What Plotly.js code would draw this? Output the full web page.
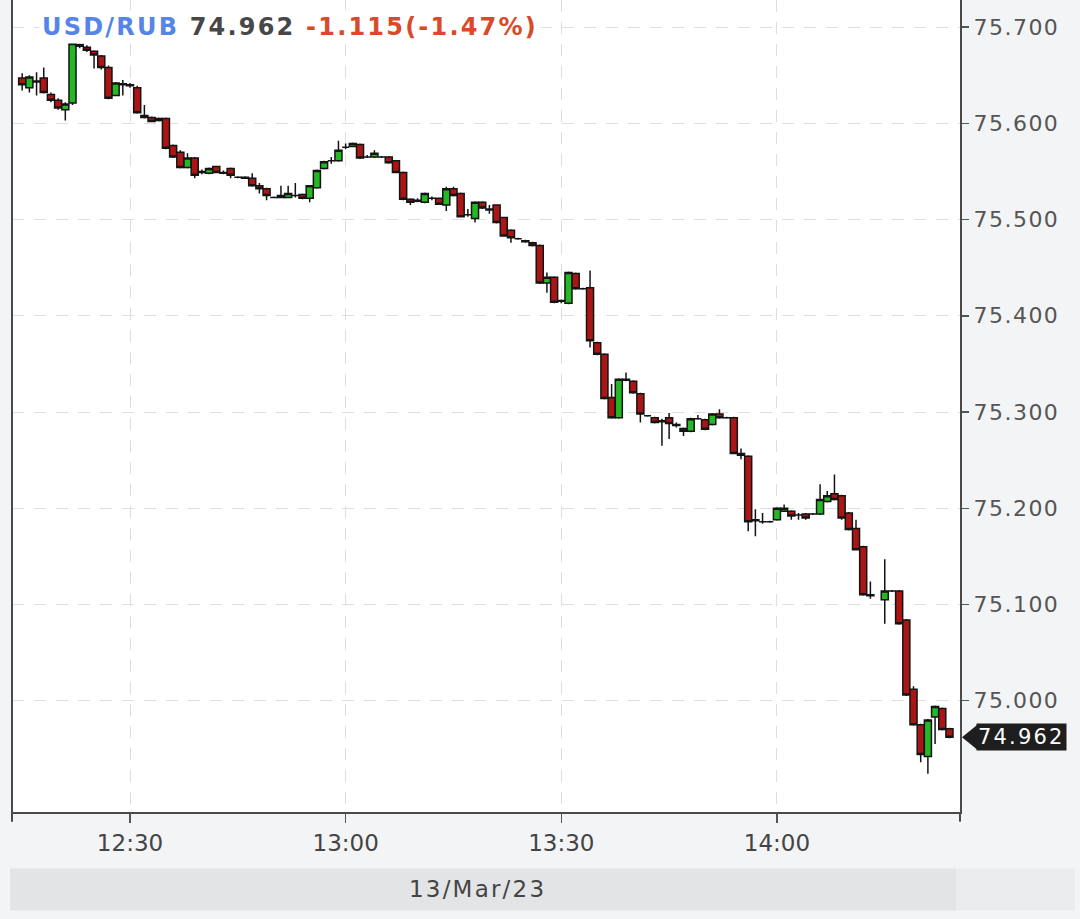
<!DOCTYPE html>
<html>
<head>
<meta charset="utf-8">
<script src="https://cdn.plot.ly/plotly-3.0.1.min.js"></script>
<style>
  html, body { margin: 0; padding: 0; background: #f3f4f6; }
  #chart { width: 1080px; height: 919px; }
  .annotation-text { letter-spacing: 2.2px; }
  .ytick text { letter-spacing: 1.5px; }
</style>
</head>
<body>
<div id="chart"></div>
<script>
const tradeDate = "2023-03-13";
const times = [
  "12:15","12:16","12:17","12:18","12:19","12:20","12:21","12:22","12:23","12:24",
  "12:25","12:26","12:27","12:28","12:29","12:30","12:31","12:32","12:33","12:34",
  "12:35","12:36","12:37","12:38","12:39","12:40","12:41","12:42","12:43","12:44",
  "12:45","12:46","12:47","12:48","12:49","12:50","12:51","12:52","12:53","12:54",
  "12:55","12:56","12:57","12:58","12:59","13:00","13:01","13:02","13:03","13:04",
  "13:05","13:06","13:07","13:08","13:09","13:10","13:11","13:12","13:13","13:14",
  "13:15","13:16","13:17","13:18","13:19","13:20","13:21","13:22","13:23","13:24",
  "13:25","13:26","13:27","13:28","13:29","13:30","13:31","13:32","13:33","13:34",
  "13:35","13:36","13:37","13:38","13:39","13:40","13:41","13:42","13:43","13:44",
  "13:45","13:46","13:47","13:48","13:49","13:50","13:51","13:52","13:53","13:54",
  "13:55","13:56","13:57","13:58","13:59","14:00","14:01","14:02","14:03","14:04",
  "14:05","14:06","14:07","14:08","14:09","14:10","14:11","14:12","14:13","14:15",
  "14:16","14:17","14:18","14:19","14:20","14:21","14:22","14:23","14:24"
];
const openP = [
  75.647,75.637,75.644,75.647,75.630,75.624,75.614,75.621,75.682,75.679,
  75.675,75.670,75.658,75.629,75.641,75.640,75.637,75.608,75.606,75.603,
  75.605,75.577,75.570,75.554,75.564,75.550,75.548,75.555,75.549,75.553,
  75.544,75.544,75.543,75.535,75.532,75.523,75.525,75.523,75.525,75.526,
  75.522,75.533,75.553,75.561,75.561,75.575,75.576,75.578,75.565,75.565,
  75.565,75.565,75.561,75.549,75.521,75.520,75.518,75.522,75.522,75.515,
  75.532,75.527,75.505,75.501,75.518,75.511,75.515,75.502,75.489,75.480,
  75.478,75.476,75.473,75.434,75.440,75.416,75.413,75.444,75.428,75.429,
  75.372,75.360,75.315,75.294,75.334,75.332,75.319,75.296,75.294,75.291,
  75.294,75.287,75.283,75.280,75.293,75.292,75.287,75.298,75.294,75.294,
  75.257,75.254,75.188,75.186,75.186,75.188,75.197,75.197,75.193,75.194,
  75.194,75.194,75.207,75.215,75.213,75.195,75.179,75.160,75.110,75.105,
  75.114,75.114,75.084,75.012,74.975,74.942,74.983,74.992,74.971
];
const highP = [
  75.652,75.650,75.653,75.658,75.632,75.626,75.622,75.684,75.683,75.681,
  75.676,75.671,75.660,75.643,75.645,75.642,75.639,75.619,75.607,75.606,
  75.606,75.578,75.572,75.569,75.565,75.552,75.554,75.556,75.551,75.554,
  75.545,75.545,75.548,75.538,75.533,75.524,75.535,75.535,75.538,75.527,
  75.536,75.552,75.561,75.565,75.582,75.579,75.580,75.579,75.567,75.572,
  75.566,75.566,75.562,75.550,75.522,75.522,75.528,75.524,75.523,75.534,
  75.534,75.528,75.511,75.519,75.519,75.515,75.516,75.503,75.490,75.481,
  75.479,75.477,75.474,75.445,75.441,75.417,75.446,75.445,75.429,75.447,
  75.373,75.361,75.329,75.335,75.341,75.333,75.320,75.297,75.295,75.293,
  75.299,75.289,75.284,75.294,75.297,75.293,75.299,75.303,75.295,75.295,
  75.262,75.255,75.199,75.195,75.187,75.201,75.204,75.198,75.195,75.195,
  75.195,75.225,75.218,75.235,75.214,75.196,75.188,75.161,75.124,75.147,
  75.115,75.115,75.085,75.015,74.976,74.981,74.995,74.993,74.972
];
const lowP = [
  75.634,75.632,75.629,75.631,75.622,75.614,75.603,75.619,75.678,75.674,
  75.657,75.656,75.625,75.628,75.629,75.637,75.610,75.605,75.601,75.602,
  75.573,75.564,75.553,75.553,75.543,75.547,75.547,75.548,75.547,75.543,
  75.543,75.543,75.534,75.527,75.520,75.522,75.522,75.522,75.523,75.521,
  75.518,75.532,75.552,75.558,75.560,75.573,75.575,75.563,75.564,75.564,
  75.564,75.558,75.548,75.520,75.515,75.518,75.517,75.520,75.515,75.509,
  75.524,75.502,75.503,75.497,75.511,75.506,75.496,75.482,75.476,75.479,
  75.476,75.472,75.433,75.424,75.413,75.413,75.412,75.427,75.427,75.367,
  75.359,75.313,75.293,75.293,75.332,75.319,75.289,75.295,75.288,75.265,
  75.272,75.284,75.275,75.279,75.292,75.281,75.286,75.293,75.293,75.256,
  75.251,75.176,75.171,75.184,75.185,75.187,75.196,75.188,75.188,75.188,
  75.193,75.193,75.206,75.208,75.188,75.177,75.156,75.109,75.106,75.080,
  75.113,75.079,75.005,74.974,74.936,74.924,74.955,74.969,74.961
];
const closeP = [
  75.640,75.648,75.643,75.632,75.624,75.616,75.620,75.683,75.680,75.676,
  75.671,75.658,75.626,75.642,75.640,75.639,75.611,75.606,75.602,75.605,
  75.574,75.565,75.554,75.564,75.546,75.549,75.553,75.549,75.548,75.546,
  75.544,75.543,75.535,75.532,75.525,75.523,75.523,75.527,75.525,75.522,
  75.535,75.551,75.560,75.561,75.572,75.575,75.579,75.564,75.565,75.569,
  75.565,75.559,75.549,75.521,75.518,75.519,75.527,75.522,75.516,75.532,
  75.525,75.503,75.505,75.518,75.512,75.510,75.497,75.483,75.481,75.480,
  75.477,75.473,75.434,75.440,75.414,75.415,75.445,75.428,75.428,75.374,
  75.360,75.314,75.294,75.334,75.333,75.320,75.298,75.296,75.289,75.290,
  75.288,75.286,75.280,75.293,75.293,75.282,75.298,75.294,75.294,75.257,
  75.255,75.186,75.187,75.186,75.186,75.200,75.200,75.192,75.193,75.190,
  75.194,75.209,75.213,75.209,75.190,75.178,75.157,75.110,75.109,75.114,
  75.114,75.080,75.006,74.975,74.944,74.980,74.994,74.970,74.962
];
const yTickVals = [75.0, 75.1, 75.2, 75.3, 75.4, 75.5, 75.6, 75.7];
const yTickText = ["75.000","75.100","75.200","75.300","75.400","75.500","75.600","75.700"];
const symbol = "USD/RUB";
const lastPrice = "74.962";
const change = "-1.115(-1.47%)";
const dateLabel = "13/Mar/23";
const lastValue = 74.962;

const xs = times.map(t => tradeDate + " " + t);

const trace = {
  type: "candlestick",
  x: xs, open: openP, high: highP, low: lowP, close: closeP,
  increasing: { fillcolor: "#22b922", line: { color: "#141414", width: 1.5 } },
  decreasing: { fillcolor: "#ab1515", line: { color: "#141414", width: 1.5 } },
  whiskerwidth: 0,
  hoverinfo: "skip",
  showlegend: false
};

const gridCol = "#dedede";
const layout = {
  width: 1080, height: 919,
  margin: { l: 12, r: 120, t: 0, b: 107 },
  paper_bgcolor: "#f3f4f6",
  plot_bgcolor: "#ffffff",
  boxgap: 0.02, boxgroupgap: 0,
  showlegend: false,
  xaxis: {
    type: "date",
    range: [tradeDate + " 12:13:35", tradeDate + " 14:25:28"],
    tick0: tradeDate + " 12:00", dtick: 1800000,
    tickformat: "%H:%M",
    showgrid: true, gridcolor: gridCol, griddash: "12px,10px", gridwidth: 1,
    ticks: "outside", ticklen: 9, tickwidth: 1.5, tickcolor: "#555",
    showline: true, linecolor: "#4a4a4a", linewidth: 2,
    tickfont: { family: "DejaVu Sans, sans-serif", size: 23, color: "#444" },
    rangeslider: { visible: false },
    zeroline: false, fixedrange: true
  },
  yaxis: {
    side: "right",
    range: [74.88438, 75.72813],
    tickmode: "array", tickvals: yTickVals, ticktext: yTickText,
    showgrid: true, gridcolor: gridCol, griddash: "12px,10px", gridwidth: 1,
    ticks: "outside", ticklen: 7, tickwidth: 1.5, tickcolor: "#555",
    showline: true, linecolor: "#4a4a4a", linewidth: 2,
    tickfont: { family: "DejaVu Sans, sans-serif", size: 22, color: "#555" },
    zeroline: false, fixedrange: true
  },
  shapes: [
    { type: "line", xref: "paper", yref: "paper", x0: 0, x1: 0, y0: 0, y1: 1,
      line: { color: "#4a4a4a", width: 2 } },
    { type: "line", xref: "paper", yref: "paper", x0: 0, x1: 0, y0: 0, y1: -0.012,
      line: { color: "#4a4a4a", width: 2 } },
    { type: "line", xref: "paper", yref: "paper", x0: 1, x1: 1, y0: 0, y1: -0.012,
      line: { color: "#4a4a4a", width: 2 } },
    { type: "rect", xref: "paper", yref: "paper", x0: -0.002, x1: 0.9958, y0: -0.0695, y1: -0.1213,
      fillcolor: "#e3e4e6", line: { width: 0 }, layer: "below" },
    { type: "rect", xref: "paper", yref: "paper", x0: 0.9958, x1: 1.1213, y0: -0.0695, y1: -0.1213,
      fillcolor: "#ebecee", line: { width: 0 }, layer: "below" },
    { type: "path", xref: "paper", yref: "y",
      path: "M 1.0021," + lastValue + " L 1.0180," + (lastValue + 0.0128) + " L 1.0180," + (lastValue - 0.0128) + " Z",
      fillcolor: "#1e1e1e", line: { width: 0 } }
  ],
  annotations: [
    { xref: "paper", yref: "paper", x: 0.029, y: 0.9667, xanchor: "left", yanchor: "middle",
      showarrow: false, bgcolor: "#ffffff", borderpad: 2,
      font: { family: "DejaVu Sans, sans-serif", size: 24, color: "#444" },
      text: "<b><span style='color:#5585e6'>" + symbol + "</span> <span style='color:#474747'>" + lastPrice +
            "</span> <span style='color:#d84a2a'>" + change + "</span></b>" },
    { xref: "paper", yref: "y", x: 1.0170, y: lastValue, xanchor: "left", yanchor: "middle",
      showarrow: false, bgcolor: "#1e1e1e", borderpad: 1,
      font: { family: "DejaVu Sans, sans-serif", size: 21, color: "#ffffff" },
      text: lastPrice },
    { xref: "paper", yref: "paper", x: 0.4915, y: -0.0954, xanchor: "center", yanchor: "middle",
      showarrow: false,
      font: { family: "DejaVu Sans, sans-serif", size: 23, color: "#444" },
      text: dateLabel }
  ]
};

Plotly.newPlot("chart", [trace], layout, { staticPlot: true, displayModeBar: false });
</script>
</body>
</html>
